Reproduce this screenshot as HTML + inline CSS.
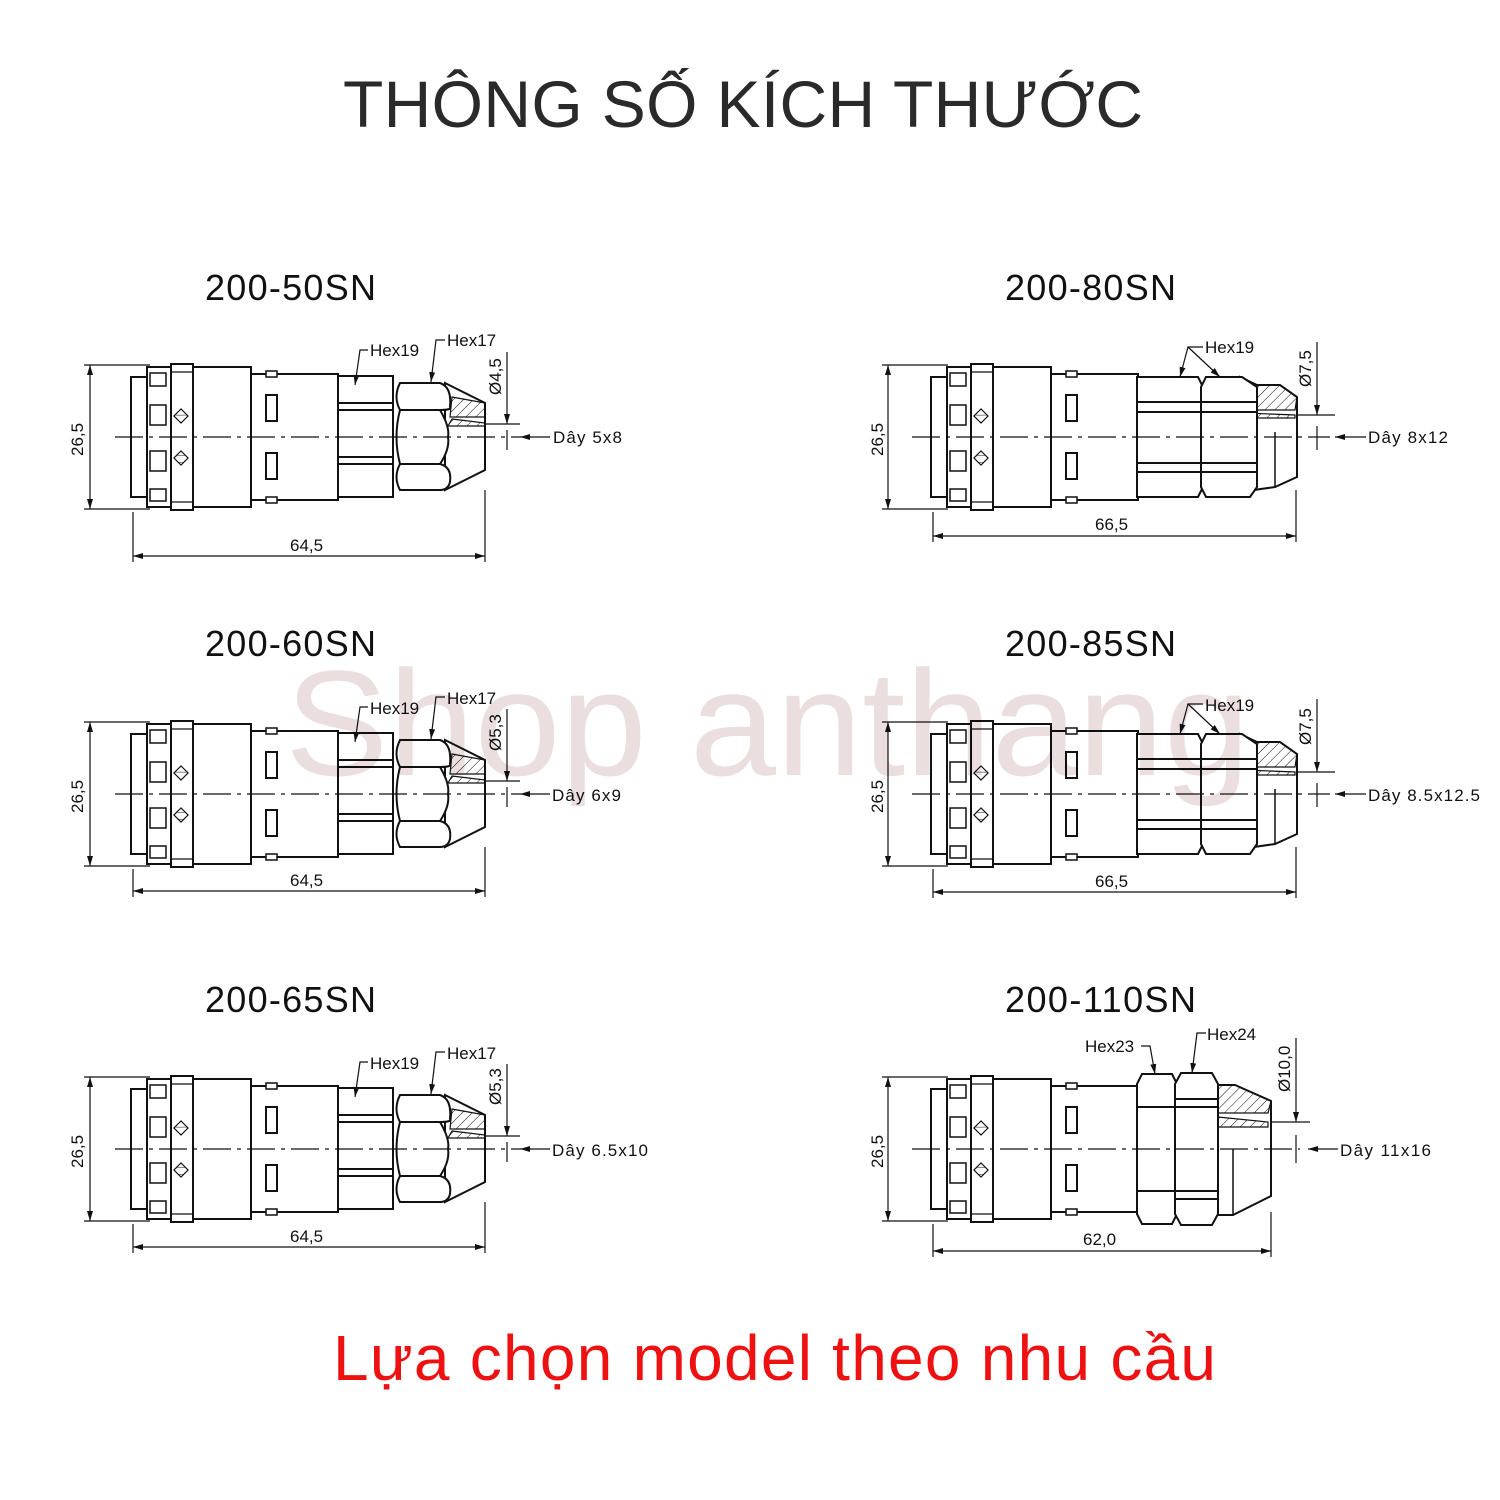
<!DOCTYPE html>
<html><head><meta charset="utf-8"><style>
html,body{margin:0;padding:0;background:#fff;width:1500px;height:1500px;overflow:hidden}
svg{display:block}
</style></head><body>
<svg width="1500" height="1500" viewBox="0 0 1500 1500" xmlns="http://www.w3.org/2000/svg" font-family="Liberation Sans, Arial, sans-serif">
<defs>
<pattern id="h" width="7" height="7" patternUnits="userSpaceOnUse" patternTransform="rotate(45)"><line x1="0" y1="0" x2="0" y2="7" stroke="#111" stroke-width="1"/></pattern>
<g id="body" fill="#fff" stroke="#111" stroke-width="2">
 <rect x="131" y="-60" width="18" height="120"/>
 <rect x="147" y="-70" width="24" height="140"/>
 <rect x="150" y="-64" width="16" height="13" stroke-width="1.5"/>
 <rect x="150" y="-32" width="16" height="20" stroke-width="1.5"/>
 <rect x="150" y="14" width="16" height="20" stroke-width="1.5"/>
 <rect x="150" y="52" width="16" height="12" stroke-width="1.5"/>
 <rect x="171" y="-73" width="22" height="146"/>
 <line x1="171" y1="-65" x2="193" y2="-65" stroke-width="1.2"/>
 <line x1="171" y1="65" x2="193" y2="65" stroke-width="1.2"/>
 <rect x="176" y="-26" width="10" height="10" transform="rotate(45 181 -21)" stroke-width="1.2" fill="url(#h)"/>
 <rect x="176" y="16" width="10" height="10" transform="rotate(45 181 21)" stroke-width="1.2" fill="url(#h)"/>
 <rect x="193" y="-70" width="58" height="140"/>
 <rect x="251" y="-63" width="87" height="126"/>
 <rect x="266" y="-66" width="11" height="6" stroke-width="1.5"/>
 <rect x="266" y="60" width="11" height="6" stroke-width="1.5"/>
 <rect x="266" y="-42" width="11" height="26"/>
 <rect x="266" y="16" width="11" height="26"/>
</g>
<g id="frontA" fill="#fff" stroke="#111" stroke-width="2">
 <rect x="338" y="-61" width="55" height="121"/>
 <line x1="338" y1="-34" x2="393" y2="-34"/><line x1="338" y1="-27" x2="393" y2="-27"/>
 <line x1="338" y1="20" x2="393" y2="20"/><line x1="338" y1="27" x2="393" y2="27"/>
 <path d="M445,-54 L485,-34 L485,33 L445,53 Z"/>
 <path d="M452,-40 L485,-34 L485,-20 L450,-20 Z" fill="url(#h)" stroke-width="1.2"/>
 <path d="M452,-18 L485,-14 L485,-11 L448,-11 Z" fill="url(#h)" stroke-width="1.2"/>
 <path d="M400,-54 L440,-54 Q452,-50 450,-30 Q452,-27 440,-27 L400,-27 Q393,-40 400,-54 Z"/>
 <path d="M400,-27 L440,-27 Q450,-10 448,0 Q450,12 440,27 L400,27 Q393,0 400,-27 Z"/>
 <path d="M400,27 L440,27 Q452,30 450,45 Q448,53 440,53 L400,53 Q393,40 400,27 Z"/>
</g>
<g id="frontB" fill="#fff" stroke="#111" stroke-width="2">
 <path d="M1240,-60 L1257,-52 L1280,-52 L1297,-40 L1297,40 L1275,50 L1240,55 Z"/>
 <path d="M1240,-60 L1257,-52 L1280,-52 L1297,-40 L1295,-27 L1245,-27 Z" fill="url(#h)" stroke-width="1.2"/>
 <path d="M1245,-24 L1295,-22 L1295,-19 L1245,-19 Z" fill="url(#h)" stroke-width="1.2"/>
 <line x1="1275" y1="-5" x2="1275" y2="50" stroke-width="1.5"/>
 <path d="M1137,-60 L1198,-60 L1203,-50 L1203,50 L1198,60 L1137,60 Z"/>
 <path d="M1206,-60 L1242,-60 L1257,-50 L1257,50 L1250,60 L1206,60 L1201,50 L1201,-50 Z"/>
 <line x1="1137" y1="-35" x2="1257" y2="-35"/><line x1="1137" y1="-25" x2="1257" y2="-25"/>
 <line x1="1137" y1="26" x2="1257" y2="26"/><line x1="1137" y1="35" x2="1257" y2="35"/>
</g>
<g id="frontC" fill="#fff" stroke="#111" stroke-width="2">
 <path d="M1212,-75 L1218,-64 L1235,-64 L1271,-48 L1271,47 L1233,66 L1212,66 Z"/>
 <path d="M1212,-75 L1218,-64 L1235,-64 L1271,-48 L1268,-36 L1208,-36 Z" fill="url(#h)" stroke-width="1.2"/>
 <path d="M1208,-33 L1268,-27 L1268,-22 L1210,-22 Z" fill="url(#h)" stroke-width="1.2"/>
 <line x1="1233" y1="0" x2="1233" y2="66" stroke-width="1.5"/>
 <path d="M1142,-75 L1172,-75 L1177,-65 L1177,65 L1172,75 L1142,75 L1137,65 L1137,-65 Z"/>
 <line x1="1137" y1="-42" x2="1177" y2="-42"/><line x1="1137" y1="42" x2="1177" y2="42"/>
 <path d="M1181,-76 L1212,-76 L1218,-65 L1218,65 L1212,76 L1181,76 L1175,65 L1175,-65 Z"/>
 <line x1="1175" y1="-50" x2="1218" y2="-50"/><line x1="1175" y1="-42" x2="1218" y2="-42"/>
 <line x1="1175" y1="42" x2="1218" y2="42"/><line x1="1175" y1="50" x2="1218" y2="50"/>
</g>
<marker id="ar" viewBox="0 0 10 6" refX="10" refY="3" markerWidth="10" markerHeight="6" orient="auto-start-reverse" markerUnits="userSpaceOnUse"><path d="M0,0 L10,3 L0,6 Z" fill="#111"/></marker>
</defs>

<text x="343" y="127" font-size="66" fill="#2a2a2a" textLength="800">THÔNG SỐ KÍCH THƯỚC</text>

<g font-size="36" fill="#111">
<text x="205" y="300" textLength="171">200-50SN</text><text x="1005" y="300" textLength="171">200-80SN</text>
<text x="205" y="656" textLength="171">200-60SN</text><text x="1005" y="656" textLength="171">200-85SN</text>
<text x="205" y="1012" textLength="171">200-65SN</text><text x="1005" y="1012" textLength="191">200-110SN</text>
</g>

<g transform="translate(0,437)"><use href="#body"/><use href="#frontA"/></g>
<g transform="translate(0,794)"><use href="#body"/><use href="#frontA"/></g>
<g transform="translate(0,1149)"><use href="#body"/><use href="#frontA"/></g>
<g transform="translate(800,437)"><use href="#body"/></g><g transform="translate(0,437)"><use href="#frontB"/></g>
<g transform="translate(800,794)"><use href="#body"/></g><g transform="translate(0,794)"><use href="#frontB"/></g>
<g transform="translate(800,1149)"><use href="#body"/></g><g transform="translate(0,1149)"><use href="#frontC"/></g>

<g stroke="#111" stroke-width="1.2" fill="none">
 <line x1="115" y1="437" x2="520" y2="437" stroke-dasharray="28,6,4,6"/>
 <line x1="115" y1="794" x2="520" y2="794" stroke-dasharray="28,6,4,6"/>
 <line x1="115" y1="1149" x2="520" y2="1149" stroke-dasharray="28,6,4,6"/>
 <line x1="912" y1="437" x2="1330" y2="437" stroke-dasharray="28,6,4,6"/>
 <line x1="912" y1="794" x2="1330" y2="794" stroke-dasharray="28,6,4,6"/>
 <line x1="912" y1="1149" x2="1300" y2="1149" stroke-dasharray="28,6,4,6"/>
</g>

<g stroke="#111" stroke-width="1.2" fill="none">
 <g id="dl1">
  <line x1="84" y1="365" x2="150" y2="365"/><line x1="84" y1="509" x2="150" y2="509"/>
  <line x1="90" y1="365" x2="90" y2="509" marker-start="url(#ar)" marker-end="url(#ar)"/>
 </g>
 <use href="#dl1" transform="translate(0,357)"/><use href="#dl1" transform="translate(0,712)"/>
 <use href="#dl1" transform="translate(798,0)"/><use href="#dl1" transform="translate(798,357)"/><use href="#dl1" transform="translate(798,712)"/>
 <line x1="133" y1="512" x2="133" y2="562"/><line x1="485" y1="490" x2="485" y2="562"/>
 <line x1="133" y1="556" x2="485" y2="556" marker-start="url(#ar)" marker-end="url(#ar)"/>
 <line x1="133" y1="869" x2="133" y2="897"/><line x1="485" y1="847" x2="485" y2="897"/>
 <line x1="133" y1="891" x2="485" y2="891" marker-start="url(#ar)" marker-end="url(#ar)"/>
 <line x1="133" y1="1224" x2="133" y2="1253"/><line x1="485" y1="1202" x2="485" y2="1253"/>
 <line x1="133" y1="1247" x2="485" y2="1247" marker-start="url(#ar)" marker-end="url(#ar)"/>
 <line x1="933" y1="512" x2="933" y2="542"/><line x1="1296" y1="490" x2="1296" y2="542"/>
 <line x1="933" y1="536" x2="1296" y2="536" marker-start="url(#ar)" marker-end="url(#ar)"/>
 <line x1="933" y1="869" x2="933" y2="898"/><line x1="1296" y1="847" x2="1296" y2="898"/>
 <line x1="933" y1="892" x2="1296" y2="892" marker-start="url(#ar)" marker-end="url(#ar)"/>
 <line x1="933" y1="1224" x2="933" y2="1257"/><line x1="1271" y1="1212" x2="1271" y2="1257"/>
 <line x1="933" y1="1251" x2="1271" y2="1251" marker-start="url(#ar)" marker-end="url(#ar)"/>
 <g id="dd1">
  <line x1="485" y1="424" x2="520" y2="424"/>
  <line x1="507" y1="352" x2="507" y2="424" marker-end="url(#ar)"/>
  <line x1="507" y1="430" x2="507" y2="450"/>
  <line x1="550" y1="437" x2="520" y2="437" marker-end="url(#ar)"/>
 </g>
 <use href="#dd1" transform="translate(0,357)"/><use href="#dd1" transform="translate(0,712)"/>
 <g id="dd2">
  <line x1="1296" y1="415" x2="1335" y2="415"/>
  <line x1="1317" y1="342" x2="1317" y2="415" marker-end="url(#ar)"/>
  <line x1="1317" y1="426" x2="1317" y2="450"/>
  <line x1="1366" y1="437" x2="1335" y2="437" marker-end="url(#ar)"/>
 </g>
 <use href="#dd2" transform="translate(0,357)"/>
 <line x1="1271" y1="1122" x2="1310" y2="1122"/>
 <line x1="1296" y1="1038" x2="1296" y2="1122" marker-end="url(#ar)"/>
 <line x1="1296" y1="1135" x2="1296" y2="1163"/>
 <line x1="1338" y1="1149" x2="1308" y2="1149" marker-end="url(#ar)"/>
 <g id="hl">
  <path d="M368,350 L360,350 L355,385" marker-end="url(#ar)"/>
  <path d="M445,340 L436,340 L431,382" marker-end="url(#ar)"/>
 </g>
 <use href="#hl" transform="translate(0,357)"/><use href="#hl" transform="translate(0,712)"/>
 <path d="M1203,347 L1188,347 L1180,377" marker-end="url(#ar)"/>
 <path d="M1188,347 L1220,377" marker-end="url(#ar)"/>
 <path d="M1203,704 L1188,704 L1180,734" marker-end="url(#ar)"/>
 <path d="M1188,704 L1220,734" marker-end="url(#ar)"/>
 <path d="M1141,1046 L1150,1046 L1155,1074" marker-end="url(#ar)"/>
 <path d="M1206,1033 L1197,1033 L1192,1073" marker-end="url(#ar)"/>
</g>

<g font-size="17" fill="#111">
 <text transform="translate(83,456) rotate(-90)">26,5</text>
 <text transform="translate(83,813) rotate(-90)">26,5</text>
 <text transform="translate(83,1168) rotate(-90)">26,5</text>
 <text transform="translate(883,456) rotate(-90)">26,5</text>
 <text transform="translate(883,813) rotate(-90)">26,5</text>
 <text transform="translate(883,1168) rotate(-90)">26,5</text>
 <text x="290" y="551">64,5</text><text x="290" y="886">64,5</text><text x="290" y="1242">64,5</text>
 <text x="1095" y="530">66,5</text><text x="1095" y="887">66,5</text><text x="1083" y="1245">62,0</text>
 <text x="553" y="443" textLength="69">Dây 5x8</text><text x="552" y="801" textLength="69">Dây 6x9</text><text x="552" y="1156" textLength="96">Dây 6.5x10</text>
 <text x="1368" y="443" textLength="80">Dây 8x12</text><text x="1368" y="801" textLength="112">Dây 8.5x12.5</text><text x="1340" y="1156" textLength="91">Dây 11x16</text>
 <text x="370" y="356">Hex19</text><text x="447" y="346">Hex17</text>
 <text x="370" y="714">Hex19</text><text x="447" y="704">Hex17</text>
 <text x="370" y="1069">Hex19</text><text x="447" y="1059">Hex17</text>
 <text x="1205" y="353">Hex19</text><text x="1205" y="711">Hex19</text>
 <text x="1085" y="1052">Hex23</text><text x="1207" y="1040">Hex24</text>
 <text transform="translate(501,395) rotate(-90)">Ø4,5</text>
 <text transform="translate(501,751) rotate(-90)">Ø5,3</text>
 <text transform="translate(501,1105) rotate(-90)">Ø5,3</text>
 <text transform="translate(1311,387) rotate(-90)">Ø7,5</text>
 <text transform="translate(1311,745) rotate(-90)">Ø7,5</text>
 <text transform="translate(1290,1092) rotate(-90)">Ø10,0</text>
</g>

<text x="285" y="775" font-size="150" fill="#eadede" textLength="965" lengthAdjust="spacingAndGlyphs" style="mix-blend-mode:multiply">Shop anthang</text>

<text x="333" y="1380" font-size="64" fill="#ee1111" textLength="883">Lựa chọn model theo nhu cầu</text>
</svg>
</body></html>
